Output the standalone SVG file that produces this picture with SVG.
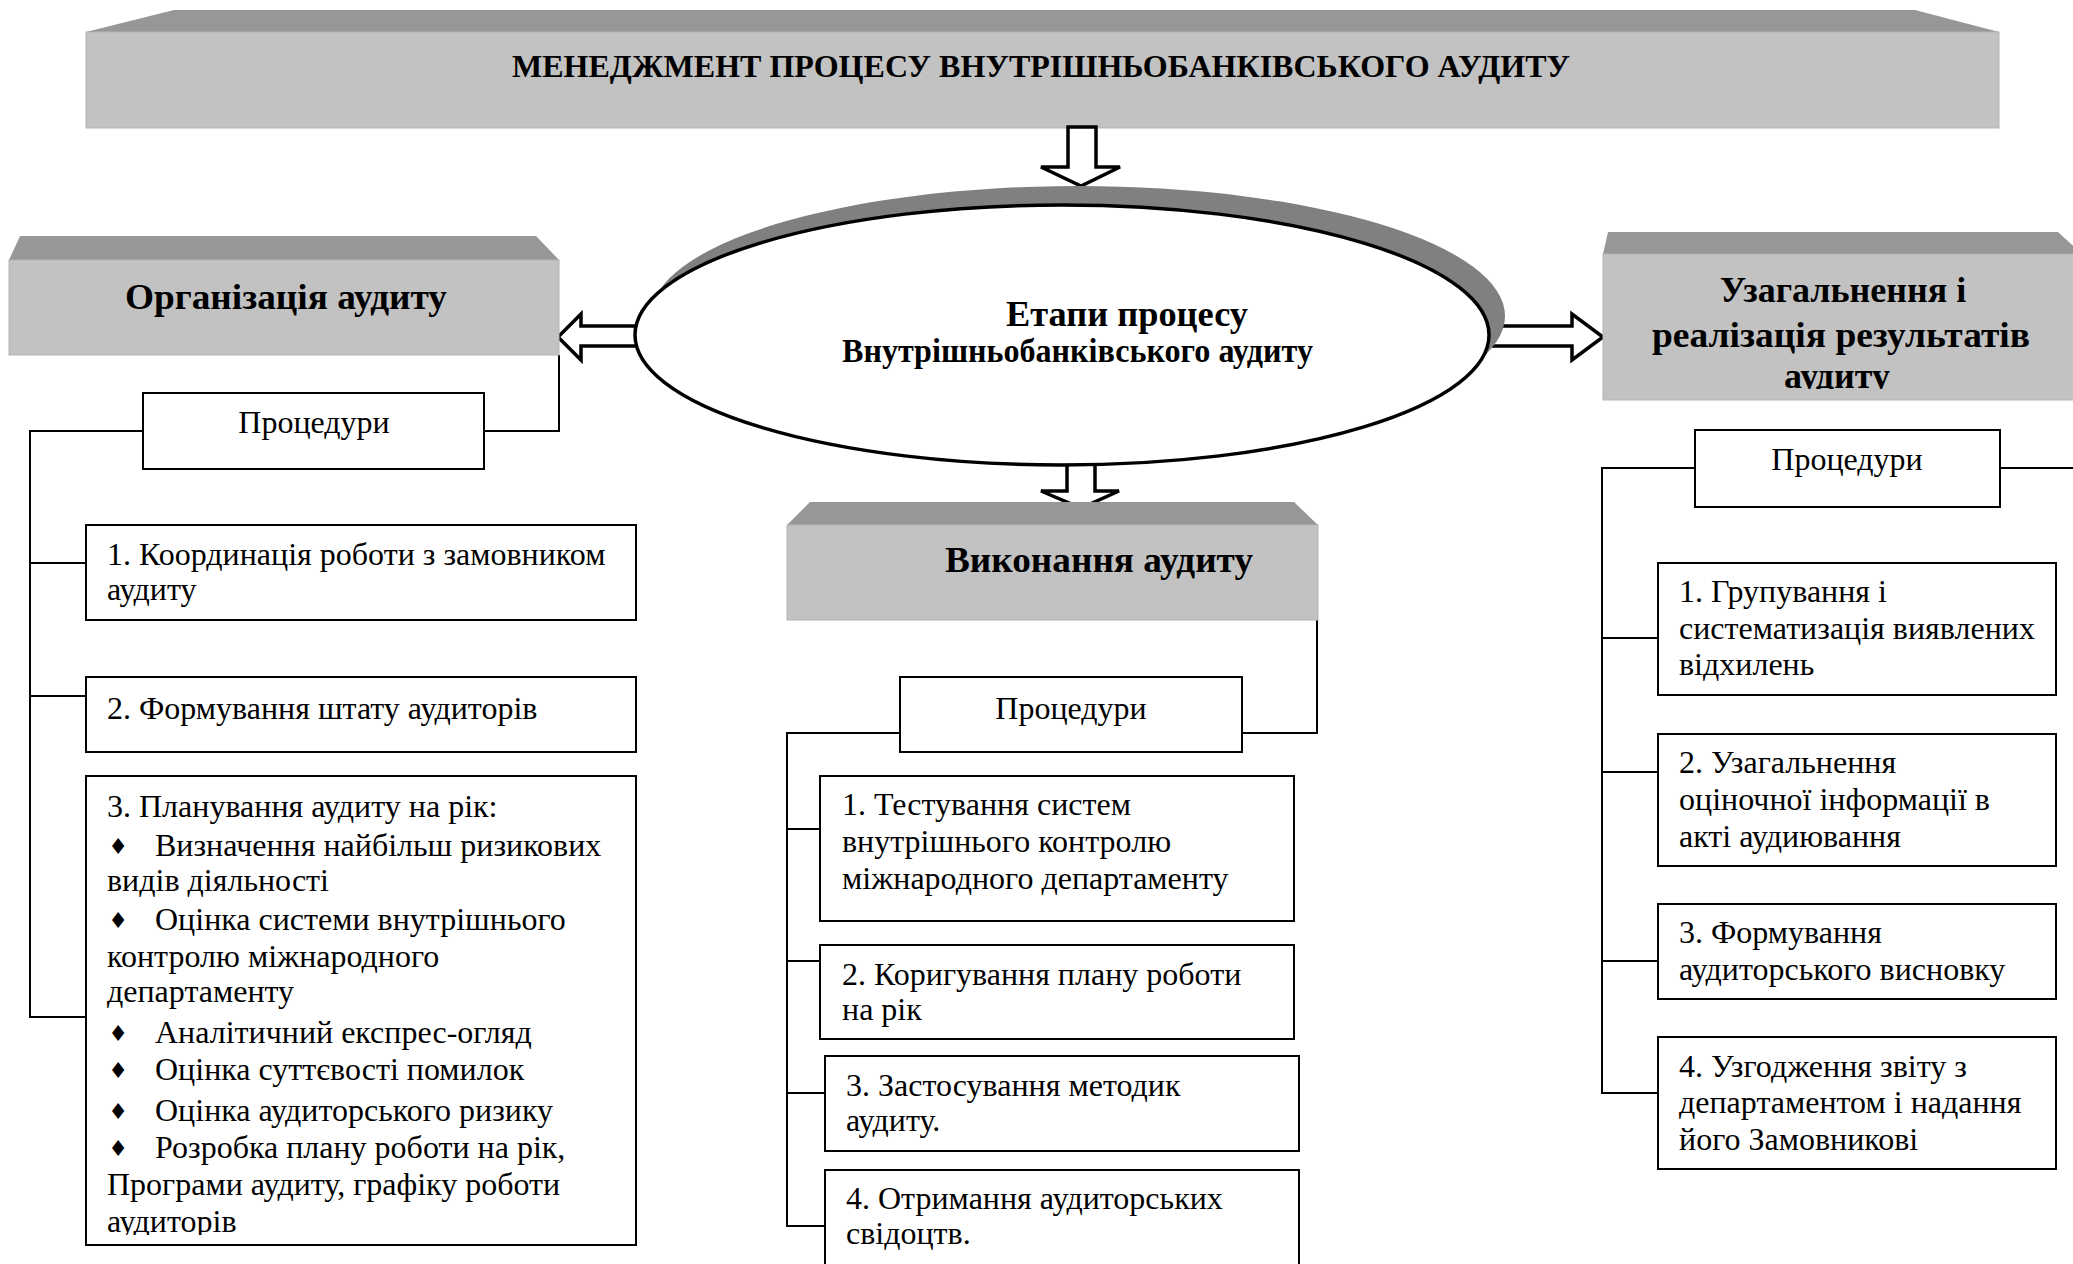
<svg xmlns="http://www.w3.org/2000/svg" width="2073" height="1264" viewBox="0 0 2073 1264">
<style>
.top{fill:#979797}
.front{fill:#c2c2c2;stroke:#b4b4b4;stroke-width:1}
.box{fill:#fff;stroke:#000;stroke-width:2}
.ln{fill:none;stroke:#000;stroke-width:2}
.blk{fill:#fff;stroke:#000;stroke-width:3.5;stroke-linejoin:miter}
.t{font-family:"Liberation Serif","Times New Roman",serif;font-size:32px;fill:#000}
.h{font-family:"Liberation Serif","Times New Roman",serif;font-size:36px;font-weight:bold;fill:#000}
.c{text-anchor:middle}
.b{font-family:"DejaVu Sans",sans-serif;font-size:22px;text-anchor:middle;fill:#000}
</style>
<defs>
<clipPath id="clipL3"><rect x="86" y="776" width="550" height="459"/></clipPath>
<clipPath id="clipRH"><rect x="1603" y="254" width="470" height="135"/></clipPath>
</defs>
<rect width="2073" height="1264" fill="#fff"/>

<g id="banner">
<polygon class="top" points="174,10 1915,10 1999,32 86,32"/>
<rect class="front" x="86" y="32" width="1913" height="96"/>
<text class="h" x="512" y="77" style="font-size:32px" textLength="1058" lengthAdjust="spacingAndGlyphs">МЕНЕДЖМЕНТ ПРОЦЕСУ ВНУТРІШНЬОБАНКІВСЬКОГО АУДИТУ</text>
</g>

<g id="connectors">
<polygon class="blk" points="1068,127 1096,127 1096,167 1120,167 1081,186 1041,167 1068,167"/>
<polygon class="blk" points="645,326 581,326 581,314 558,337 581,360 581,346 645,346"/>
<polygon class="blk" points="1490,326 1572,326 1572,314 1603,337 1572,360 1572,346 1490,346"/>
<polygon class="blk" points="1067,460 1095,460 1095,491 1119,491 1081,508 1041,491 1067,491"/>
<path class="ln" d="M559,355 V431 H484"/>
<path class="ln" d="M143,431 H30 V1017 H86 M30,563 H86 M30,696 H86"/>
<path class="ln" d="M1317,620 V733 H1242"/>
<path class="ln" d="M900,733 H787 V1226 H825 M787,829 H820 M787,961 H820 M787,1093 H825"/>
<path class="ln" d="M1695,468 H1602 V1093 H1658 M1602,638 H1658 M1602,772 H1658 M1602,961 H1658"/>
<path class="ln" d="M2000,468 H2073"/>
</g>

<g id="stages">
<ellipse cx="1078" cy="316" rx="427" ry="130" fill="#808080"/>
<ellipse cx="1062" cy="335" rx="427" ry="130" fill="#fff" stroke="#000" stroke-width="3.5"/>
<text class="h" x="1006" y="326" textLength="242" lengthAdjust="spacingAndGlyphs">Етапи процесу</text>
<text class="h" x="842" y="362" style="font-size:33px" textLength="471" lengthAdjust="spacingAndGlyphs">Внутрішньобанківського аудиту</text>
</g>

<g id="org">
<polygon class="top" points="20,236 536,236 559,260 9,260"/>
<rect class="front" x="9" y="260" width="550" height="95"/>
<text class="h" x="125" y="309" textLength="322" lengthAdjust="spacingAndGlyphs">Організація аудиту</text>
</g>

<g id="org-proc">
<rect class="box" x="143" y="393" width="341" height="76"/>
<text class="t c" x="314" y="433">Процедури</text>
</g>

<g id="org-1">
<rect class="box" x="86" y="525" width="550" height="95"/>
<text class="t" x="107" y="565">1. Координація роботи з замовником</text>
<text class="t" x="107" y="600">аудиту</text>
</g>

<g id="org-2">
<rect class="box" x="86" y="677" width="550" height="75"/>
<text class="t" x="107" y="719">2. Формування штату аудиторів</text>
</g>

<g id="org-3">
<rect class="box" x="86" y="776" width="550" height="469"/>
<g clip-path="url(#clipL3)">
<text class="t" x="107" y="817">3. Планування аудиту на рік:</text>
<text class="b" x="118" y="854">♦</text><text class="t" x="155" y="856">Визначення найбільш ризикових</text>
<text class="t" x="107" y="891">видів діяльності</text>
<text class="b" x="118" y="928">♦</text><text class="t" x="155" y="930">Оцінка системи внутрішнього</text>
<text class="t" x="107" y="967">контролю міжнародного</text>
<text class="t" x="107" y="1002">департаменту</text>
<text class="b" x="118" y="1041">♦</text><text class="t" x="155" y="1043">Аналітичний експрес-огляд</text>
<text class="b" x="118" y="1078">♦</text><text class="t" x="155" y="1080">Оцінка суттєвості помилок</text>
<text class="b" x="118" y="1119">♦</text><text class="t" x="155" y="1121">Оцінка аудиторського ризику</text>
<text class="b" x="118" y="1156">♦</text><text class="t" x="155" y="1158">Розробка плану роботи на рік,</text>
<text class="t" x="107" y="1195">Програми аудиту, графіку роботи</text>
<text class="t" x="107" y="1232">аудиторів</text>
</g>
</g>

<g id="exec">
<polygon class="top" points="810,502 1294,502 1318,525 787,525"/>
<rect class="front" x="787" y="525" width="531" height="95"/>
<text class="h" x="945" y="572" textLength="308" lengthAdjust="spacingAndGlyphs">Виконання аудиту</text>
</g>

<g id="exec-proc">
<rect class="box" x="900" y="677" width="342" height="75"/>
<text class="t c" x="1071" y="719">Процедури</text>
</g>

<g id="exec-1">
<rect class="box" x="820" y="776" width="474" height="145"/>
<text class="t" x="842" y="815">1. Тестування систем</text>
<text class="t" x="842" y="852">внутрішнього контролю</text>
<text class="t" x="842" y="889">міжнародного департаменту</text>
</g>

<g id="exec-2">
<rect class="box" x="820" y="945" width="474" height="94"/>
<text class="t" x="842" y="985">2. Коригування плану роботи</text>
<text class="t" x="842" y="1020">на рік</text>
</g>

<g id="exec-3">
<rect class="box" x="825" y="1056" width="474" height="95"/>
<text class="t" x="846" y="1096">3. Застосування методик</text>
<text class="t" x="846" y="1131">аудиту.</text>
</g>

<g id="exec-4">
<rect class="box" x="825" y="1170" width="474" height="110"/>
<text class="t" x="846" y="1209">4. Отримання аудиторських</text>
<text class="t" x="846" y="1244">свідоцтв.</text>
</g>

<g id="results">
<polygon class="top" points="1608,232 2058,232 2082,254 1603,254"/>
<rect class="front" x="1603" y="254" width="480" height="146"/>
<g clip-path="url(#clipRH)">
<text class="h c" x="1843" y="302">Узагальнення і</text>
<text class="h c" x="1841" y="347" textLength="378" lengthAdjust="spacingAndGlyphs">реалізація результатів</text>
<text class="h c" x="1837" y="388">аудиту</text>
</g>
</g>

<g id="results-proc">
<rect class="box" x="1695" y="430" width="305" height="77"/>
<text class="t c" x="1847" y="470">Процедури</text>
</g>

<g id="results-1">
<rect class="box" x="1658" y="563" width="398" height="132"/>
<text class="t" x="1679" y="602">1. Групування і</text>
<text class="t" x="1679" y="639">систематизація виявлених</text>
<text class="t" x="1679" y="675">відхилень</text>
</g>

<g id="results-2">
<rect class="box" x="1658" y="734" width="398" height="132"/>
<text class="t" x="1679" y="773">2. Узагальнення</text>
<text class="t" x="1679" y="810">оціночної інформації в</text>
<text class="t" x="1679" y="847">акті аудиювання</text>
</g>

<g id="results-3">
<rect class="box" x="1658" y="904" width="398" height="95"/>
<text class="t" x="1679" y="943">3. Формування</text>
<text class="t" x="1679" y="980">аудиторського висновку</text>
</g>

<g id="results-4">
<rect class="box" x="1658" y="1037" width="398" height="132"/>
<text class="t" x="1679" y="1077">4. Узгодження звіту з</text>
<text class="t" x="1679" y="1113">департаментом і надання</text>
<text class="t" x="1679" y="1150">його Замовникові</text>
</g>
</svg>
